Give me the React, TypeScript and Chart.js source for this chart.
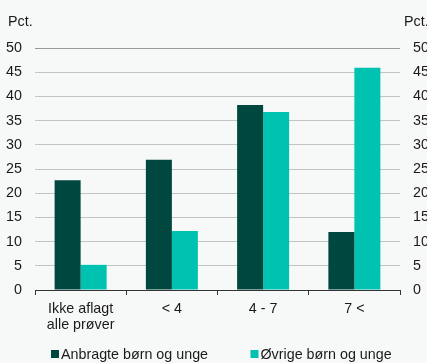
import React, { useEffect, useRef } from "react";
import { Chart, registerables } from "chart.js";

Chart.register(...registerables);

const categories: (string | string[])[] = [["Ikke aflagt", "alle prøver"], "< 4", "4 - 7", "7 <"];
const anbragte = [22.7, 26.9, 38.2, 12.0];
const oevrige = [5.2, 12.2, 36.8, 45.9];
const seriesLabels = ["Anbragte børn og unge", "Øvrige børn og unge"];
const seriesColors = ["#00473f", "#00c2b0"];
const axisTitle = "Pct.";
const yMin = 0;
const yMax = 50;
const yStep = 5;

const FONT = "'Liberation Sans', Arial, sans-serif";
const BG = "#f7f9f8";

const customPlugin = {
  id: "custom",
  beforeDraw(chart: any) {
    const ctx = chart.ctx;
    ctx.save();
    ctx.fillStyle = BG;
    ctx.fillRect(0, 0, chart.width, chart.height);
    ctx.restore();
  },
  afterDraw(chart: any) {
    const ctx = chart.ctx;
    ctx.save();
    ctx.font = `14.3px ${FONT}`;
    ctx.fillStyle = "#1a1a1a";
    ctx.textBaseline = "middle";
    ctx.textAlign = "left";
    ctx.fillText(axisTitle, 8, 22);
    ctx.fillText(axisTitle, 404, 22);
    // legend
    const boxX = [51, 250.5];
    chart.data.datasets.forEach((ds: any, i: number) => {
      ctx.fillStyle = ds.backgroundColor;
      ctx.fillRect(boxX[i], 350, 8, 8);
      ctx.fillStyle = "#1a1a1a";
      ctx.fillText(ds.label, boxX[i] + 10, 355);
    });
    ctx.restore();
  },
};

export default function App() {
  const ref = useRef<HTMLCanvasElement>(null);
  useEffect(() => {
    document.body.style.margin = "0";
    document.body.style.background = BG;
    const chart = new Chart(ref.current!, {
      type: "bar",
      data: {
        labels: categories,
        datasets: [
          { label: seriesLabels[0], data: anbragte, backgroundColor: seriesColors[0], yAxisID: "y" },
          { label: seriesLabels[1], data: oevrige, backgroundColor: seriesColors[1], yAxisID: "y" },
        ],
      },
      options: {
        animation: false,
        responsive: false,
        maintainAspectRatio: false,
        layout: { padding: { top: 48, left: 0, right: 0, bottom: 0 } },
        datasets: { bar: { categoryPercentage: 0.57, barPercentage: 1 } },
        plugins: { legend: { display: false }, tooltip: { enabled: false } },
        scales: {
          x: {
            offset: true,
            grid: { display: true, drawOnChartArea: false, drawTicks: true, tickLength: 5, color: "#333", offset: true },
            border: { display: true, color: "#333", width: 1 },
            ticks: { color: "#1a1a1a", font: { family: FONT, size: 14.3, lineHeight: 1.13 }, padding: 6, maxRotation: 0 },
            afterFit: (s: any) => { s.height = 73; },
          },
          y: {
            position: "left",
            min: yMin,
            max: yMax,
            grid: {
              drawTicks: false,
              color: (c: any) => (c.tick && c.tick.value === yMax ? "#9a9a9a" : "#c4c4c4"),
              lineWidth: 1,
            },
            border: { display: false },
            ticks: { stepSize: yStep, color: "#1a1a1a", font: { family: FONT, size: 14.3 }, padding: 13 },
            afterFit: (s: any) => { s.width = 35; },
          },
          y2: {
            position: "right",
            min: yMin,
            max: yMax,
            grid: { display: false, drawTicks: false },
            border: { display: false },
            ticks: { stepSize: yStep, color: "#1a1a1a", font: { family: FONT, size: 14.3 }, padding: 13 },
            afterFit: (s: any) => { s.width = 27; },
          },
        },
      },
      plugins: [customPlugin],
    });
    return () => chart.destroy();
  }, []);
  return (
    <div style={{ width: 427, height: 363 }}>
      <canvas ref={ref} width={427} height={363} style={{ display: "block" }} />
    </div>
  );
}
